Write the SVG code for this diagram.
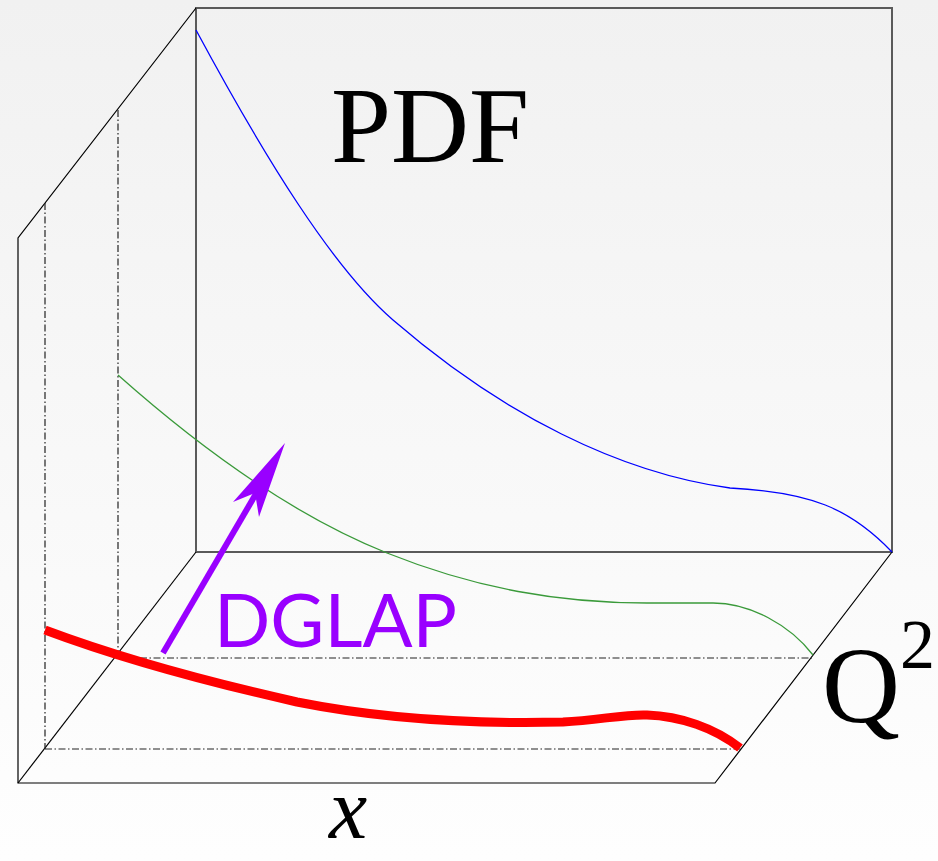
<svg xmlns="http://www.w3.org/2000/svg" width="938" height="861" viewBox="0 0 938 861">
<defs>
<linearGradient id="bg" x1="0" y1="0" x2="0" y2="1">
<stop offset="0" stop-color="#f1f1f1"/>
<stop offset="0.9" stop-color="#fdfdfd"/>
<stop offset="1" stop-color="#fefefe"/>
</linearGradient>
<style>
.frame{fill:none;stroke:#000;stroke-width:1.2}
.back{fill:none;stroke:#5a5a5a;stroke-width:2}
.dd{fill:none;stroke:#222;stroke-width:1.2;stroke-dasharray:7 2.5 1.5 2.5}
.lbl{font-family:"Liberation Serif","Times New Roman",serif;fill:#000}
</style>
</defs>
<rect x="0" y="0" width="938" height="861" fill="url(#bg)"/>
<g id="box">
<rect class="back" x="196" y="8" width="696" height="544"/>
<polyline class="frame" points="196,8 18,238 18,783 715,783 892,552"/>
<line class="frame" x1="18" y1="783" x2="196" y2="552"/>
</g>
<g id="guides">
<line class="dd" x1="45" y1="203" x2="45" y2="749"/>
<line class="dd" x1="118" y1="110" x2="118" y2="653"/>
<line class="dd" x1="45" y1="749" x2="741" y2="749"/>
<line class="dd" x1="140" y1="658" x2="812" y2="658"/>
</g>
<g id="curves">
<path id="blue" d="M196,30 C266,160 333,268 393,320 C503,415 620,473 730,488 C810,492 850,508 892,552" fill="none" stroke="#0000ff" stroke-width="1.3"/>
<path id="green" d="M118,375 C208,455 297,517 387,553 C477,589 560,603 647,603 L713,603 C750,603 790,625 813,655" fill="none" stroke="#3a9a3a" stroke-width="1.3"/>
<path id="red" d="M45,630 C125,660 217,684 297,702 C387,720 480,724 563,722 C600,720 625,714 647,715 C680,716 715,728 740,748" fill="none" stroke="#ff0000" stroke-width="9"/>
</g>
<g id="arrow">
<line x1="163" y1="653" x2="257" y2="492" stroke="#9900ff" stroke-width="6"/>
<polygon points="285,443 259,517 255,493 233,502" fill="#9900ff"/>
</g>
<g id="labels">
<text class="lbl" x="329" y="838" font-size="86" font-style="italic">x</text>
<text class="lbl" x="331" y="162" font-size="108">PDF</text>
<text x="214" y="647" font-family="Lato,'Open Sans',sans-serif" font-size="74" fill="#9900ff" textLength="243" lengthAdjust="spacingAndGlyphs">DGLAP</text>
<text class="lbl" x="822" y="722" font-size="108">Q</text>
<text class="lbl" x="900" y="668" font-size="70">2</text>
</g>
</svg>
